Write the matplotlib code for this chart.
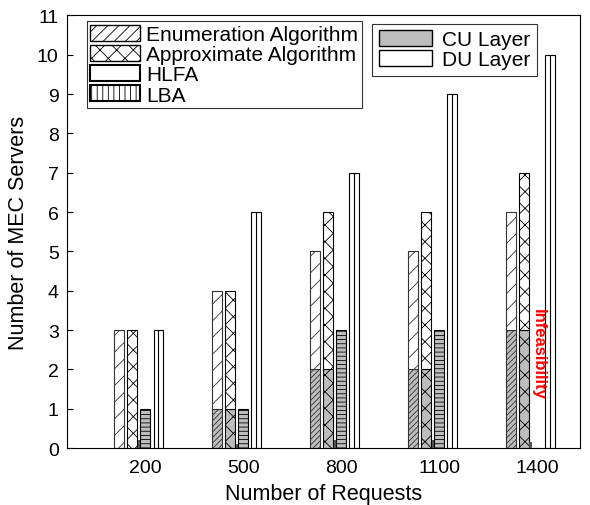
import matplotlib
matplotlib.use("Agg")
import matplotlib.pyplot as plt
from matplotlib.patches import Patch
import numpy as np

plt.rcParams['font.family'] = ['Liberation Sans', 'DejaVu Sans']
plt.rcParams['hatch.linewidth'] = 0.6

requests = ['200', '500', '800', '1100', '1400']
enum_total = [3, 4, 5, 5, 6]
enum_cu = [0, 1, 2, 2, 3]
approx_total = [3, 4, 6, 6, 7]
approx_cu = [0, 1, 2, 2, 3]
lba_cu = [1, 1, 3, 3, 0]
hlfa_total = [3, 6, 7, 9, 10]
stub = [0.2, 0.1, 0.2, 0.2, 0.15]

fig = plt.figure(figsize=(5.9, 5.06), dpi=100)
ax = fig.add_axes([0.1136, 0.1126, 0.87, 0.855])

x = np.arange(len(requests))
step = 0.133
w = 0.1
grey = '#bdbdbd'
lw = 0.8

enum_du = np.array(enum_total) - np.array(enum_cu)
approx_du = np.array(approx_total) - np.array(approx_cu)

# Enumeration
ax.bar(x - 2 * step, enum_cu, w, color=grey, edgecolor='#333333', hatch='//////', linewidth=lw)
ax.bar(x - 2 * step, enum_du, w, bottom=enum_cu, color='white', edgecolor='#333333', hatch='//', linewidth=lw)
# Approximate
ax.bar(x - 1 * step, approx_cu, w, color=grey, edgecolor='black', hatch='xx', linewidth=lw)
ax.bar(x - 1 * step, approx_du, w, bottom=approx_cu, color='white', edgecolor='black', hatch='xx', linewidth=lw)
# stubs
ax.bar(x - 0.5 * step, stub, 0.025, color='#555555', edgecolor='none')
# LBA
ax.bar(x, lba_cu, w, color=grey, edgecolor='black', hatch='----', linewidth=lw)
# HLFA
ax.bar(x + step, hlfa_total, w, color='white', edgecolor='black', linewidth=lw)
ax.vlines(x + step, 0, hlfa_total, colors='black', linewidth=lw)

ax.text(x[4] + 0.1 * step, 2.4, 'Infeasibility', color='red', fontweight='bold', fontsize=12,
        rotation=270, ha='center', va='center')

ax.set_xlim(-0.8, 4.44)
ax.set_ylim(0, 11)
ax.set_yticks(range(0, 12))
ax.set_xticks(x)
ax.set_xticklabels(requests)
ax.tick_params(axis='x', length=0, labelsize=14, pad=8)
ax.tick_params(axis='y', direction='in', length=4, labelsize=14, pad=6)
ax.set_xlabel('Number of Requests', fontsize=15.5, labelpad=5)
ax.set_ylabel('Number of MEC Servers', fontsize=15.5, labelpad=6)
for s in ax.spines.values():
    s.set_linewidth(0.8)

h1 = [Patch(facecolor='white', edgecolor='black', hatch='///', label='Enumeration Algorithm'),
      Patch(facecolor='white', edgecolor='black', hatch='xx', label='Approximate Algorithm'),
      Patch(facecolor='white', edgecolor='black', linewidth=1.5, label='HLFA'),
      Patch(facecolor='white', edgecolor='black', hatch='|||', linewidth=1.5, label='LBA')]
leg1 = ax.legend(handles=h1, loc='upper left', bbox_to_anchor=(0.039, 0.986), fontsize=15,
                 frameon=True, fancybox=False, edgecolor='black', handlelength=2.4, handleheight=0.8,
                 handletextpad=0.3, labelspacing=0.05, borderpad=0.15, borderaxespad=0)
leg1.get_frame().set_linewidth(0.8)
ax.add_artist(leg1)

h2 = [Patch(facecolor=grey, edgecolor='black', label='CU Layer'),
      Patch(facecolor='white', edgecolor='black', label='DU Layer')]
leg2 = ax.legend(handles=h2, loc='upper left', bbox_to_anchor=(0.595, 0.981), fontsize=15,
                 frameon=True, fancybox=False, edgecolor='black', handlelength=2.55, handleheight=0.8,
                 handletextpad=0.5, labelspacing=0.05, borderpad=0.3, borderaxespad=0)
leg2.get_frame().set_linewidth(0.8)

fig.savefig('out.png', dpi=100)
